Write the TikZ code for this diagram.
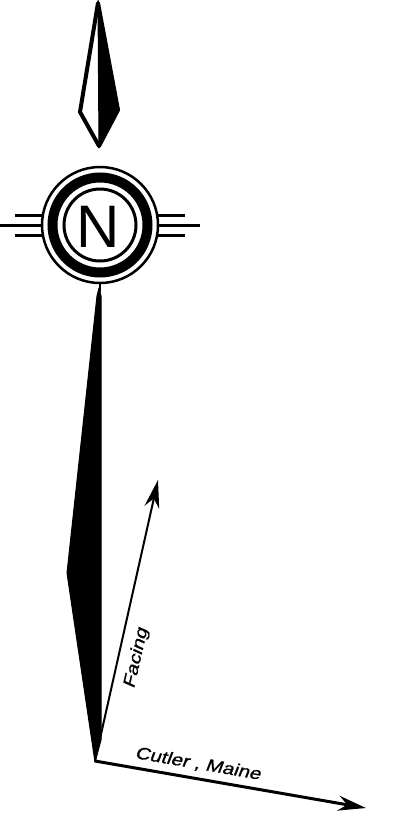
\documentclass[tikz,border=0pt]{standalone}
\usepackage{fontspec}
\setsansfont{Liberation Sans}
\newfontfamily\maplabelfont[FakeStretch=1.2,FakeSlant=0.2,FakeBold=1]{Liberation Sans}
\usetikzlibrary{arrows.meta}
\tikzset{
  needle/.style={fill=black, draw=black, line width=1pt, line join=round},
  ring/.style={draw=black, line width=#1},
  wind/.style={draw=black, line width=3pt},
  maplabel/.style={font=\maplabelfont\fontsize{17}{20}\selectfont, inner sep=0pt, sloped},
  bearing/.style={draw=black, line width=#1, -{Stealth[length=28pt, width=15pt, inset=9pt]}}
}

\begin{document}
\begin{tikzpicture}[x=1pt, y=-1pt]
  \useasboundingbox (0,0) rectangle (392,830);
  \coordinate (compass) at (100,225);
  \coordinate (origin) at (95,761);
  \coordinate (facingtip) at (158,480);
  \coordinate (cutlertip) at (366,808);

  \filldraw[fill=white, draw=black, line width=4pt, line join=round] (98,3) -- (80,112) -- (99,146) -- (118,110) -- cycle;
  \fill[needle] (98,0) -- (119,110) -- (99,148) -- cycle;

  \draw[ring=2.5pt] (compass) circle[radius=58];
  \draw[ring=10pt] (compass) circle[radius=47.5];
  \draw[ring=3pt] (compass) circle[radius=36];
  \node[font=\sffamily\fontsize{60}{60}\selectfont, inner sep=0pt] (north) at (98,227) {N};

  \foreach \dy/\len in {-10/28, 0/43, 10/28} {
    \draw[wind] ([shift={(-57,\dy)}]compass) -- ++(-\len,0);
    \draw[wind] ([shift={(57,\dy)}]compass) -- ++(\len,0);
  }

  \draw[line width=2pt] (100,283) -- (100,292);
  \fill[needle] (99,288) -- (101,296) -- (101,740) -- (95,762) -- (67,573) -- (97,296) -- cycle;

  \draw[bearing=2pt] (origin) -- (facingtip) node[maplabel, pos=0.38, below=9pt] (facing) {Facing};
  \draw[bearing=3pt] (origin) -- (cutlertip) node[maplabel, pos=0.37, above=6pt] (cutler) {Cutler , Maine};
\end{tikzpicture}
\end{document}
